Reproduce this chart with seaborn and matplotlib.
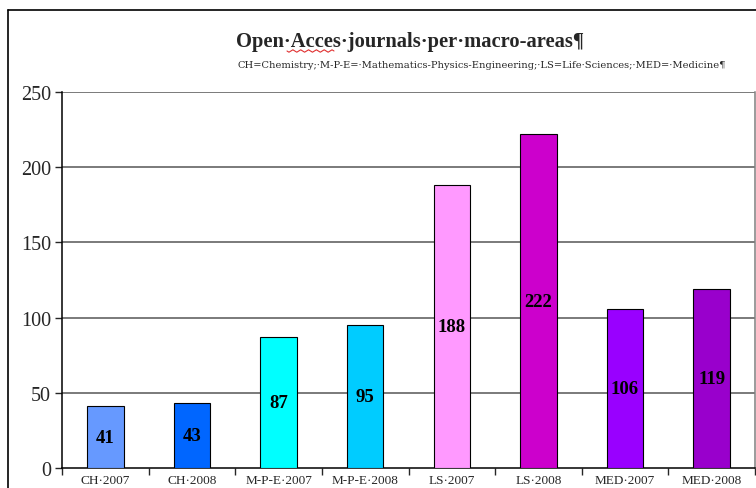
import seaborn as sns
import pandas as pd
import matplotlib.pyplot as plt
from matplotlib.lines import Line2D
import numpy as np

# data
categories = ["CH·2007", "CH·2008", "M-P-E·2007", "M-P-E·2008",
              "LS·2007", "LS·2008", "MED·2007", "MED·2008"]
journals = [41, 43, 87, 95, 188, 222, 106, 119]
bar_colors = ["#6699FF", "#0066FF", "#00FFFF", "#00CCFF",
              "#FF99FF", "#CC00CC", "#9900FF", "#9900CC"]
y_ticks = [0, 50, 100, 150, 200, 250]

title = "Open·Acces·journals·per·macro-areas¶"
subtitle = "CH=Chemistry;·M-P-E=·Mathematics-Physics-Engineering;·LS=Life·Sciences;·MED=·Medicine¶"

df = pd.DataFrame({"area": categories, "n": journals})

sns.set_style("white")
plt.rcParams["font.family"] = ["Liberation Serif", "DejaVu Serif"]

fig = plt.figure(figsize=(7.56, 4.89), dpi=100)
W, H = 756, 489
ax = fig.add_axes([62 / W, 1 - 469 / H, (755 - 62) / W, (469 - 93) / H])

sns.barplot(data=df, x="area", y="n", hue="area", palette=bar_colors,
            legend=False, width=0.42, edgecolor="black", linewidth=0.8,
            saturation=1, ax=ax, zorder=3)

# value labels centred in each bar
for i, v in enumerate(journals):
    ax.text(i, v / 2, str(v), ha="center", va="center", fontsize=13.5,
            fontweight="bold", color="black", zorder=4)

ax.set_xlim(-0.5, len(categories) - 0.5)
ax.set_ylim(0, 250)
ax.set_yticks(y_ticks)
ax.set_yticklabels([str(t) for t in y_ticks], fontsize=14.5)
ax.tick_params(axis="y", direction="out", length=5, width=1, pad=3, left=True)

# category labels centred, tick marks at category edges
ax.set_xticks(range(len(categories)))
ax.set_xticklabels(categories, fontsize=9.5)
ax.tick_params(axis="x", which="major", length=0, pad=4)
ax.set_xticks(np.arange(-0.5, len(categories)), minor=True)
ax.tick_params(axis="x", which="minor", direction="out", length=5, width=1, bottom=True)

ax.set_xlabel("")
ax.set_ylabel("")
for t in y_ticks[1:]:
    ax.axhline(t, color="#707070", linewidth=1.3, zorder=1)

ax.spines["top"].set_visible(False)
ax.spines["right"].set_color("#808080")
ax.spines["left"].set_color("black")
ax.spines["bottom"].set_color("black")
for s in ["left", "bottom", "right"]:
    ax.spines[s].set_linewidth(1.1)

# outer frame (left and top edges visible)
fig.add_artist(Line2D([8 / W, 8 / W], [0, 1 - 11 / H], color="black", linewidth=1.2))
fig.add_artist(Line2D([8 / W, 1], [1 - 11 / H, 1 - 11 / H], color="black", linewidth=1.2))

fig.text(410 / W, 1 - 42 / H, title, ha="center", va="center",
         fontsize=14.8, fontweight="bold")
fig.text(482 / W, 1 - 66 / H, subtitle, ha="center", va="center",
         fontsize=7.1, family=["DejaVu Serif"])

# red spell-check squiggle under "Acces"
sx = np.linspace(287, 334, 25)
sy = 52 + 1.2 * np.sin(np.arange(25) * np.pi / 2)
fig.add_artist(Line2D(sx / W, 1 - sy / H, color="#E03030", linewidth=0.8))

fig.savefig("out.png", dpi=100)
